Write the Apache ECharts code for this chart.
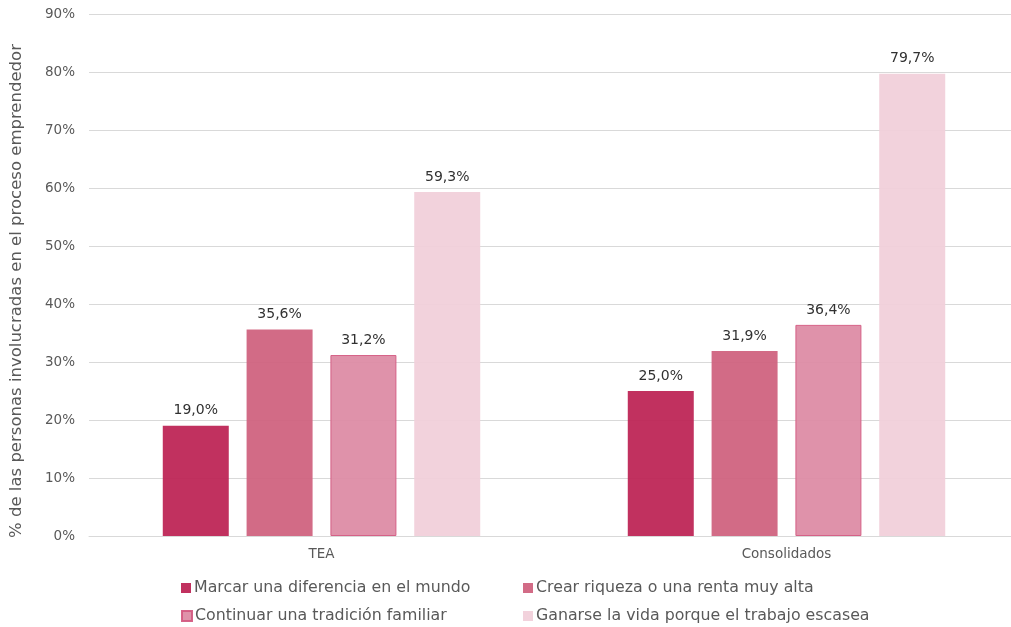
<!DOCTYPE html>
<html><head><meta charset="utf-8">
<script src="https://cdn.jsdelivr.net/npm/echarts@6/dist/echarts.min.js"></script>
<style>html,body{margin:0;padding:0;background:#fff;overflow:hidden}#c{width:1019px;height:627px}</style>
</head><body><div id="c"></div>
<script>
const categories = ['TEA', 'Consolidados'];
const seriesNames = ['Marcar una diferencia en el mundo', 'Crear riqueza o una renta muy alta', 'Continuar una tradición familiar', 'Ganarse la vida porque el trabajo escasea'];
const marcar = [19.0, 25.0];
const riqueza = [35.6, 31.9];
const tradicion = [31.2, 36.4];
const ganarse = [59.3, 79.7];
const yTicks = [0, 10, 20, 30, 40, 50, 60, 70, 80, 90];
const colors = ['#BE2656', '#D0637F', '#DD8CA5', '#F1D0DA'];
const borders = ['#BE2656', '#D0637F', '#D45C83', '#F1D0DA'];
const FONT = 'DejaVu Sans';
const values = [marcar, riqueza, tradicion, ganarse];
const legendPos = [[181, 580], [523, 580], [181, 608], [523, 608]];

const chart = echarts.init(document.getElementById('c'));
chart.setOption({
  animation: false,
  textStyle: { fontFamily: FONT },
  grid: { left: 89, right: 0, top: 14, bottom: 91, containLabel: false },
  legend: seriesNames.map((n, i) => ({
    data: [n], left: legendPos[i][0], top: legendPos[i][1], icon: 'rect',
    itemWidth: 10, itemHeight: 10, itemGap: 0, padding: 0,
    textStyle: { fontFamily: FONT, fontSize: 15.8, color: '#595959', padding: [0, 0, 0, -2] }
  })),
  xAxis: {
    type: 'category', data: categories,
    axisLine: { lineStyle: { color: '#D9D9D9' } },
    axisTick: { show: false },
    axisLabel: { color: '#595959', fontSize: 13.5, margin: 11, fontFamily: FONT }
  },
  yAxis: {
    type: 'value', min: 0, max: 90, interval: 10,
    name: '% de las personas involucradas en el proceso emprendedor',
    nameLocation: 'middle', nameGap: 64, nameRotate: 90,
    nameTextStyle: { color: '#595959', fontSize: 16.5, fontFamily: FONT, padding: [0, 32, 0, 0] },
    axisLine: { show: false }, axisTick: { show: false },
    splitLine: { lineStyle: { color: '#D9D9D9' } },
    axisLabel: { color: '#595959', fontSize: 13.5, margin: 14, fontFamily: FONT,
      formatter: v => yTicks.includes(v) ? v + '%' : '' }
  },
  series: values.map((d, i) => ({
    name: seriesNames[i], type: 'bar', data: d,
    barWidth: 66, barGap: '27%',
    itemStyle: { color: colors[i], opacity: 0.95, borderColor: borders[i], borderWidth: i === 2 ? 1 : 0 },
    label: { show: true, position: 'top', distance: 8, color: '#262626', fontSize: 14, fontFamily: FONT,
      formatter: p => p.value.toFixed(1).replace('.', ',') + '%' }
  }))
});
</script></body></html>
